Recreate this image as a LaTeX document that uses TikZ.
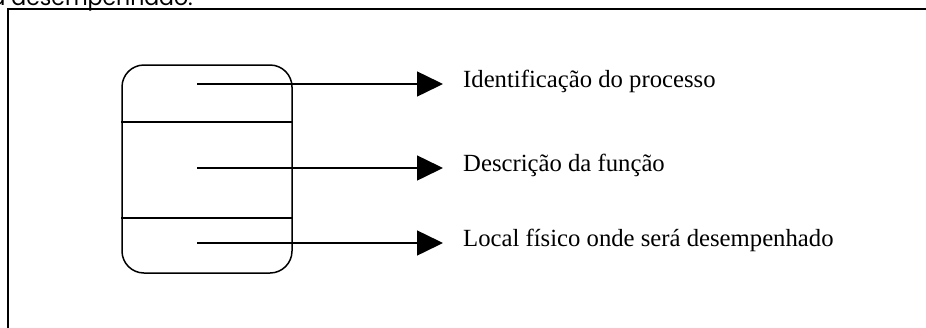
\documentclass[tikz,border=0pt]{standalone}
\usepackage{fontspec}
\setmainfont{Liberation Serif}
\newfontfamily\notefont{Poppins}
\usetikzlibrary{arrows.meta,positioning}
\tikzstyle{procbox}=[draw,line width=1.5pt,rounded corners=22pt,minimum width=170pt,minimum height=208pt,inner sep=0pt]
\tikzstyle{divider}=[draw,line width=1.5pt]
\tikzstyle{pointer}=[draw,line width=1.5pt,-{Triangle[length=26pt,width=25pt]}]
\tikzstyle{fieldlabel}=[anchor=base west,inner sep=0pt,inner xsep=20pt,font=\fontsize{24.7}{29}\selectfont]
\tikzstyle{note}=[anchor=base east,inner sep=0pt,font=\notefont\fontsize{22}{26}\selectfont]

\begin{document}
\begin{tikzpicture}[x=1pt,y=-1pt]
    \useasboundingbox (0,0) rectangle (926,327);
    \clip (0,0) rectangle (926,327);
    % Frame and the cut text above it
    \draw[line width=2pt] (8,340) -- (8,9) -- (940,9);
    \node[note] (tail) at (193,5) {a desempenhado.};

    % The process box with its two dividers
    \node[procbox] (proc) at (207,169) {};
    \foreach \y in {122,218}
        \path[divider] (proc.west |- 0,\y) -- (proc.east |- 0,\y);

    % Pointers and their labels
    \foreach \y/\name/\lbl in {84/ident/{Identificação do processo}, 168/desc/{Descrição da função}, 243/local/{Local físico onde será desempenhado}}
    {
        \coordinate (\name-s) at (197,\y);
        \node[fieldlabel] (\name) at (443,\y+3) {\lbl};
        \path[pointer] (\name-s) -- (\name-s -| \name.west);
    }
\end{tikzpicture}
\end{document}
